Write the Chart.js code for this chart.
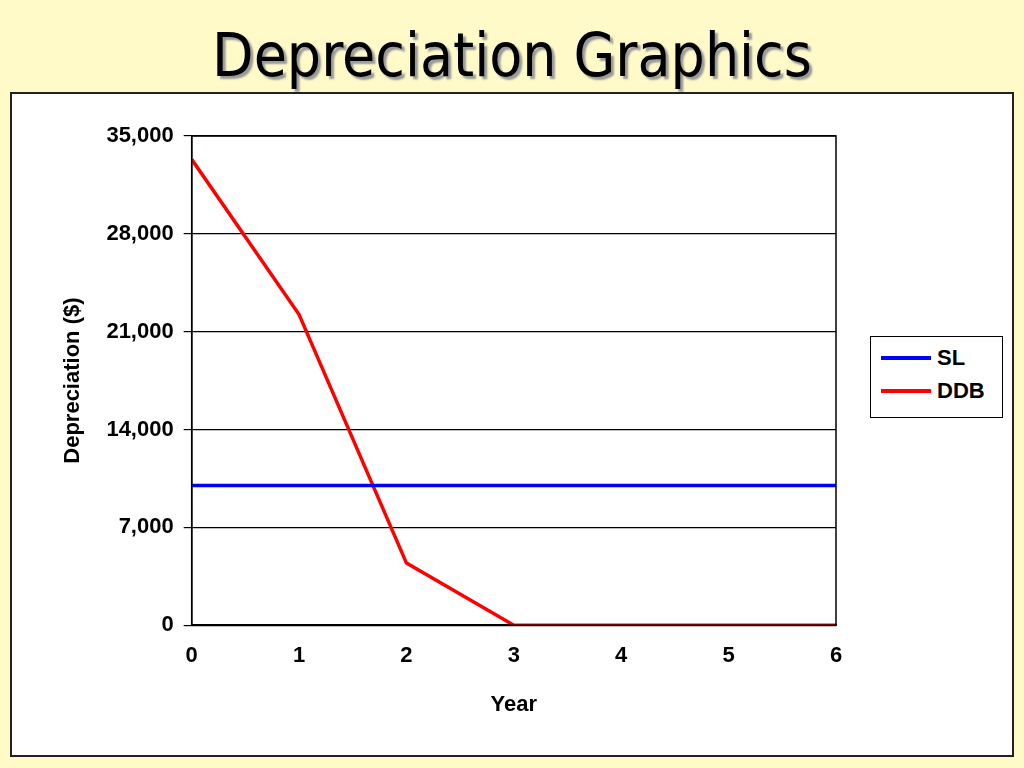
<!DOCTYPE html>
<html><head><meta charset="utf-8">
<script src="https://cdn.jsdelivr.net/npm/chart.js@4/dist/chart.umd.min.js"></script>
<style>
body{margin:0;width:1024px;height:768px;background:#FFFAC8;position:relative;overflow:hidden;font-family:"DejaVu Sans",sans-serif}
h1{position:absolute;top:20px;left:0;width:1024px;text-align:center;margin:0;font-family:"DejaVu Sans Condensed","DejaVu Sans",sans-serif;font-weight:normal;font-size:60px;color:#000;text-shadow:3px 3px 2px #999}
#box{position:absolute;left:10px;top:92px;width:1000px;height:661px;background:#fff;border:2px solid #222}
#legend{position:absolute;left:870px;top:336px;width:131px;height:80px;border:1.5px solid #000;background:#fff;font:bold 22px "Liberation Sans",Arial,sans-serif}
.item{position:absolute;left:10px;display:flex;align-items:center}
.sw{width:50px;height:4px;margin-right:6px}
</style></head><body>
<h1>Depreciation Graphics</h1>
<div id="box"><canvas id="c" width="1000" height="661"></canvas></div>
<div id="legend"></div>
<script>
const years=[0,1,2,3,4,5,6];
const slValues=[10000,10000,10000,10000,10000,10000,10000];
const ddbValues=[33333,22222,4445,0,0,0,0];
const yTicks=[0,7000,14000,21000,28000,35000];
const font={family:'"Liberation Sans",Arial,sans-serif',size:22,weight:'bold'};
const datasets=[
{label:'SL',data:years.map((x,i)=>({x,y:slValues[i]})),borderColor:'#0000FF',backgroundColor:'#0000FF',borderWidth:3.5,pointRadius:0,tension:0},
{label:'DDB',data:years.map((x,i)=>({x,y:ddbValues[i]})),borderColor:'#FF0000',backgroundColor:'#FF0000',borderWidth:3.5,pointRadius:0,tension:0}
];
const lg=document.getElementById('legend');
datasets.forEach((d,i)=>{const it=document.createElement('div');it.className='item';it.style.top=(8+i*33)+'px';
it.innerHTML='<span class="sw" style="background:'+d.borderColor+'"></span><span>'+d.label+'</span>';lg.appendChild(it);});
new Chart(document.getElementById('c'),{
type:'line',
data:{datasets},
options:{responsive:false,animation:false,
layout:{padding:{top:42,right:176,bottom:33,left:44}},
plugins:{tooltip:{enabled:false},legend:{display:false}},
scales:{
x:{type:'linear',min:0,max:6,ticks:{stepSize:1,color:'#000',font,padding:10},grid:{display:false,drawTicks:true,tickLength:8},border:{color:'#000',width:1.5},title:{display:true,text:'Year',color:'#000',font,padding:{top:12}}},
y:{min:0,max:35000,afterBuildTicks(a){a.ticks=yTicks.map(v=>({value:v}));},ticks:{color:'#000',font,padding:10,callback:v=>v.toLocaleString('en-US')},grid:{color:'#000',lineWidth:1.2,tickLength:8},border:{color:'#000',width:1.5},title:{display:true,text:'Depreciation ($)',color:'#000',font,padding:{bottom:10}}}
}},
plugins:[{id:'frame',afterDraw(ch){const a=ch.chartArea,c=ch.ctx;c.save();c.strokeStyle='#000';c.lineWidth=1.5;c.strokeRect(a.left,a.top,a.right-a.left,a.bottom-a.top);c.restore();}}]
});
</script></body></html>
